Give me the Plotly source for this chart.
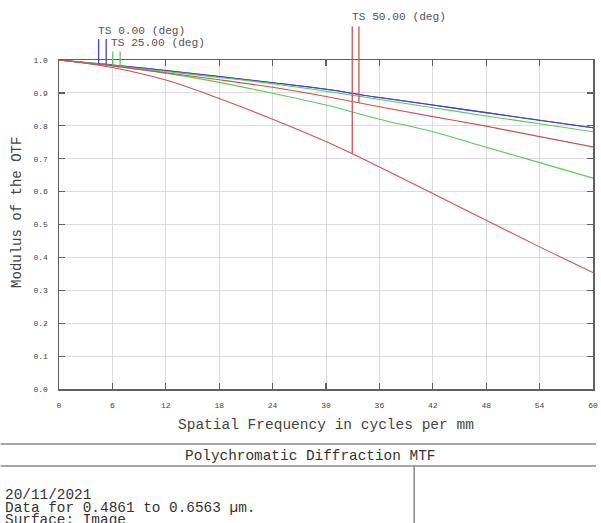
import numpy as np
import plotly.graph_objects as go

# ---- data ----
freq = [0, 3, 6, 12, 18, 24, 30, 36, 42, 48, 54, 60]

ts0_T = [1.000, 0.992, 0.985, 0.968, 0.950, 0.931, 0.911, 0.886, 0.863, 0.840, 0.817, 0.794]
ts0_S = [1.000, 0.992, 0.985, 0.968, 0.950, 0.931, 0.911, 0.886, 0.863, 0.840, 0.817, 0.794]
ts25_T = [1.000, 0.991, 0.982, 0.960, 0.932, 0.899, 0.863, 0.820, 0.782, 0.735, 0.688, 0.641]
ts25_S = [1.000, 0.992, 0.983, 0.965, 0.947, 0.928, 0.905, 0.880, 0.855, 0.830, 0.806, 0.782]
ts50_T = [1.000, 0.990, 0.977, 0.939, 0.883, 0.820, 0.752, 0.675, 0.594, 0.513, 0.432, 0.354]
ts50_S = [1.000, 0.991, 0.982, 0.961, 0.940, 0.917, 0.889, 0.858, 0.828, 0.799, 0.767, 0.736]

field_labels = ["TS 0.00 (deg)", "TS 25.00 (deg)", "TS 50.00 (deg)"]
marker_freq_T = [4.45, 6.04, 32.95]
marker_freq_S = [5.30, 6.87, 33.70]
label_freq = [4.2, 5.57, 32.7]

x_ticks = [0, 6, 12, 18, 24, 30, 36, 42, 48, 54, 60]
y_ticks = [0.0, 0.1, 0.2, 0.3, 0.4, 0.5, 0.6, 0.7, 0.8, 0.9, 1.0]

title_text = "Polychromatic Diffraction MTF"
info_lines = ["20/11/2021", "Data for 0.4861 to 0.6563 \u00b5m.", "Surface: Image"]

# ---- styling ----
colors = ["#4646bc", "#5cc85c", "#c85454"]
W, H = 601, 523
L, R, T, B = 59, 3, 60, 134
ph = H - T - B
pw = W - L - R


def py(ypix):
    return (H - B - ypix) / ph


def px(xpix):
    return (xpix - L) / pw


font_mono = "Liberation Mono, Courier New, monospace"

fig = go.Figure()
series = [(ts0_T, ts0_S), (ts25_T, ts25_S), (ts50_T, ts50_S)]
for i, (tv, sv) in enumerate(series):
    fig.add_trace(go.Scatter(x=freq, y=sv, mode="lines", line=dict(color=colors[i], width=1.1),
                             line_shape="spline", showlegend=False, hoverinfo="skip"))
    fig.add_trace(go.Scatter(x=freq, y=tv, mode="lines", line=dict(color=colors[i], width=1.1),
                             line_shape="spline", showlegend=False, hoverinfo="skip"))

shapes = []
annotations = []
marker_top = [py(39), py(51.5), py(26.5)]
label_y = [py(31), py(43), py(17)]
for i, (tv, sv) in enumerate(series):
    yT = float(np.interp(marker_freq_T[i], freq, tv))
    yS = float(np.interp(marker_freq_S[i], freq, sv))
    for fx, yb in ((marker_freq_T[i], yT), (marker_freq_S[i], yS)):
        shapes.append(dict(type="line", xref="x", yref="paper", x0=fx, x1=fx, y0=yb, y1=marker_top[i],
                           line=dict(color=colors[i], width=1.3)))
    annotations.append(dict(x=label_freq[i], y=label_y[i], xref="x", yref="paper", text=field_labels[i],
                            showarrow=False, xanchor="left", yanchor="middle",
                            font=dict(family=font_mono, size=11.2, color="#555555")))

# y title
annotations.append(dict(x=px(16.5), y=py(212), xref="paper", yref="paper", text="Modulus of the OTF",
                        textangle=-90, showarrow=False, xanchor="center", yanchor="middle",
                        font=dict(family=font_mono, size=14, color="#444444")))
# x title
annotations.append(dict(x=0.5, y=py(425), xref="paper", yref="paper", text="Spatial Frequency in cycles per mm",
                        showarrow=False, xanchor="center", yanchor="middle",
                        font=dict(family=font_mono, size=14.5, color="#444444")))

# bottom info block
shapes.append(dict(type="line", xref="paper", yref="paper", x0=px(0), x1=px(W), y0=py(444), y1=py(444),
                   line=dict(color="#8a8a8a", width=1.5)))
shapes.append(dict(type="line", xref="paper", yref="paper", x0=px(0), x1=px(W), y0=py(466), y1=py(466),
                   line=dict(color="#8a8a8a", width=1.5)))
shapes.append(dict(type="line", xref="paper", yref="paper", x0=px(417.5), x1=px(417.5), y0=py(466), y1=py(H + 2),
                   line=dict(color="#8a8a8a", width=1.5)))
annotations.append(dict(x=px(312), y=py(456), xref="paper", yref="paper", text=title_text,
                        showarrow=False, xanchor="center", yanchor="middle",
                        font=dict(family=font_mono, size=14.4, color="#333333")))
for k, line in enumerate(info_lines):
    annotations.append(dict(x=px(2), y=py(495 + 12.5 * k), xref="paper", yref="paper", text=line,
                            showarrow=False, xanchor="left", yanchor="middle",
                            font=dict(family=font_mono, size=14.4, color="#333333")))

axis_common = dict(showline=True, linecolor="#606060", linewidth=1.5, mirror="ticks",
                   ticks="inside", ticklen=6, tickcolor="#606060", tickwidth=1.2,
                   showgrid=True, gridcolor="#dcdcdc", gridwidth=1, zeroline=False,
                   tickfont=dict(family=font_mono, size=8, color="#444444"))

fig.update_layout(
    width=W, height=H,
    margin=dict(l=L, r=R, t=T, b=B),
    paper_bgcolor="white", plot_bgcolor="white",
    shapes=shapes, annotations=annotations,
    xaxis=dict(range=[0, 60], tickvals=x_ticks, ticktext=[str(v) for v in x_ticks], **axis_common),
    yaxis=dict(range=[0, 1.0], tickvals=y_ticks, ticktext=[f"{v:.1f}" for v in y_ticks], **axis_common),
)
fig.update_xaxes(ticklabelstandoff=8)
fig.update_yaxes(ticklabelstandoff=8)

fig.write_html("out.html", config={"displayModeBar": False, "staticPlot": True},
               post_script="document.body.style.margin='0';document.body.style.overflow='hidden';")
